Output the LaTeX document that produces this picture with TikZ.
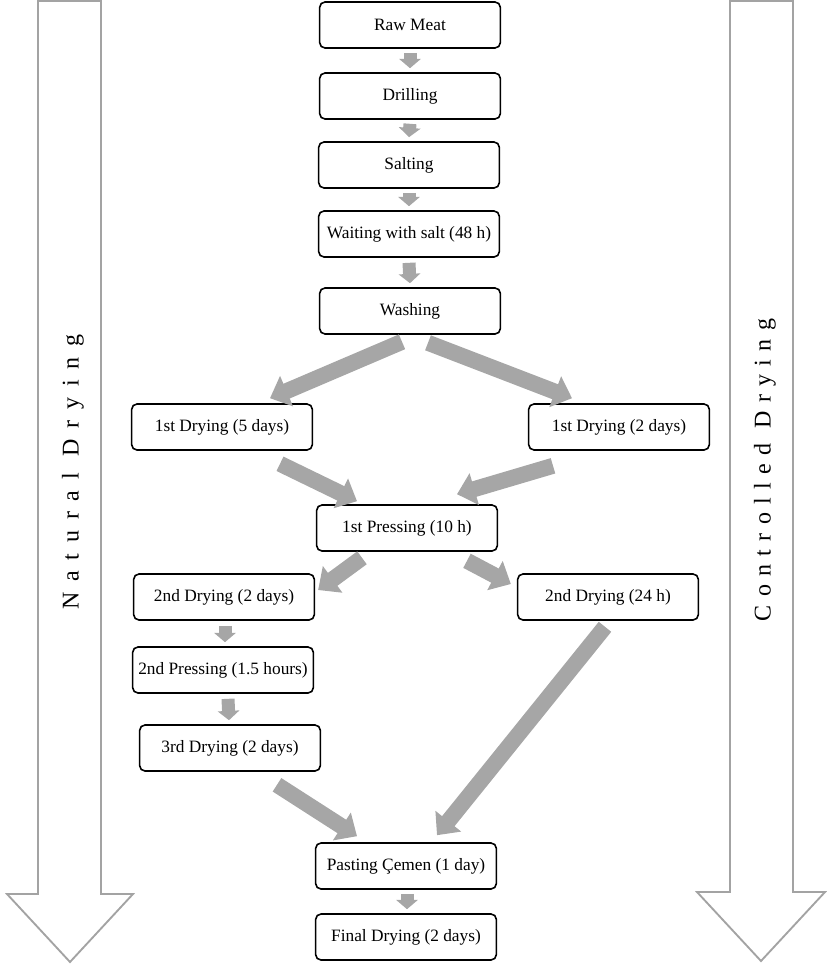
\documentclass[tikz,border=0pt]{standalone}
\usepackage{fontspec}
\setmainfont{Liberation Serif}
\newfontfamily\trackfont[LetterSpace=45]{Liberation Serif}
\newfontfamily\tighttrackfont[LetterSpace=35]{Liberation Serif}
\usetikzlibrary{arrows.meta,calc}
\definecolor{flowgray}{HTML}{A6A6A6}
\definecolor{edgegray}{HTML}{A3A3A3}
\begin{document}
\begin{tikzpicture}[x=0.75pt,y=-0.75pt,
		stage/.style={draw,rounded corners=4pt,line width=1.2pt,minimum width=135.5pt,
					minimum height=34.5pt,inner sep=0pt,font=\fontsize{13}{15}\selectfont},
		flow/.style={draw=flowgray,line width=9.75pt,-{Triangle[length=7pt,width=16pt]}},
		bigflow/.style={draw=flowgray,line width=12pt,-{Triangle[length=13.5pt,width=24pt]}},
		phase/.style={draw=edgegray,line width=1.4pt,fill=white},
		phaselabel/.style={rotate=90,font=\fontsize{18}{20}\selectfont}]
		\useasboundingbox (0,0) rectangle (827,964);
		% the two big process arrows
		\draw[phase] (38,1) -- (101,1) -- (101,894) -- (133,894) -- (70,962) -- (7,894) -- (38,894) -- cycle;
		\draw[phase] (730,1) -- (793,1) -- (793,892) -- (825,892) -- (761,961) -- (697,892) -- (730,892) -- cycle;
		\node[phaselabel] (natural) at (73,472) {\trackfont Natural Drying};
		\node[phaselabel] (controlled) at (765,470) {\tighttrackfont Controlled Drying};
		% stages
		\node[stage] (raw) at (410,25) {Raw Meat};
		\node[stage] (drill) at (410,96) {Drilling};
		\node[stage] (salt) at (409,165) {Salting};
		\node[stage] (wait) at (409,234) {Waiting with salt (48 h)};
		\node[stage] (wash) at (410,311) {Washing};
		\node[stage] (dryA) at (222,427) {1st Drying (5 days)};
		\node[stage] (dryB) at (619,427) {1st Drying (2 days)};
		\node[stage] (press) at (407,528) {1st Pressing (10 h)};
		\node[stage] (dryC) at (224,597) {2nd Drying (2 days)};
		\node[stage] (dryD) at (608,597) {2nd Drying (24 h)};
		\node[stage] (pressB) at (223,670) {2nd Pressing (1.5 hours)};
		\node[stage] (dryE) at (230,748) {3rd Drying (2 days)};
		\node[stage] (paste) at (406,866) {Pasting Çemen (1 day)};
		\node[stage] (final) at (406,937) {Final Drying (2 days)};
		% connectors
		\draw[flow] ($(raw.south)+(0,4)$) -- ($(drill.north)+(0,-4)$);
		\draw[flow] ($(drill.south)+(0,4)$) -- ($(salt.north)+(0,-4)$);
		\draw[flow] ($(salt.south)+(0,4)$) -- ($(wait.north)+(0,-4)$);
		\draw[flow] ($(wait.south)+(0,5)$) -- ($(wash.north)+(0,-4)$);
		\draw[bigflow] ($(wash.south)+(-8,7)$) -- ($(dryA.north)+(48,-5)$);
		\draw[bigflow] ($(wash.south)+(18,8)$) -- ($(dryB.north)+(-47,-5)$);
		\draw[bigflow] ($(dryA.south)+(58,13)$) -- ($(press.north)+(-50,-3)$);
		\draw[bigflow] ($(dryB.south)+(-66,15)$) -- ($(press.north)+(50,-10)$);
		\draw[bigflow] ($(press.south)+(-45,6)$) -- ($(dryC.east)+(3,-7)$);
		\draw[bigflow] ($(press.south)+(60,9)$) -- ($(dryD.west)+(-6,-13)$);
		\draw[flow] ($(dryC.south)+(1,5)$) -- ($(pressB.north)+(2,-4)$);
		\draw[flow] ($(pressB.south)+(5,5)$) -- ($(dryE.north)+(-1,-4)$);
		\draw[bigflow] ($(dryD.south)+(-3,6)$) -- ($(paste.north)+(31,-7)$);
		\draw[bigflow] ($(dryE.south)+(47,13)$) -- ($(paste.north)+(-49,-6)$);
		\draw[flow] ($(paste.south)+(1,4)$) -- ($(final.north)+(1,-4)$);
	\end{tikzpicture}
\end{document}
